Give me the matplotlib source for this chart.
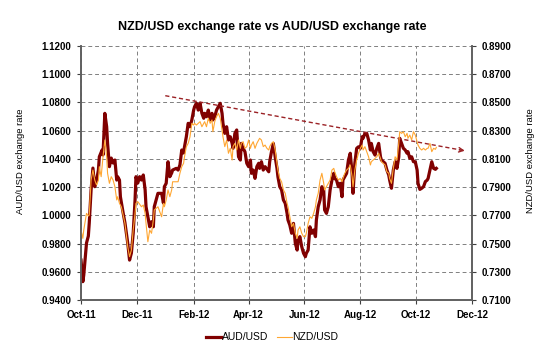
import numpy as np
import pandas as pd
import matplotlib
matplotlib.use('Agg')
import matplotlib.pyplot as plt
import matplotlib.dates as mdates

plt.rcParams['font.family'] = ['Liberation Sans', 'DejaVu Sans']

# days counted from 1 Oct 2011
start = pd.Timestamp('2011-10-01')

aud_days = [0, 2, 3, 6, 8, 9, 11, 13, 15, 17, 19, 20, 23, 24, 26, 28, 29, 31, 33, 35,
            37, 39, 40, 42, 43, 46, 48, 51, 53, 55, 57, 59, 60, 62, 64, 66, 68, 70, 71, 73,
            75, 77, 79, 80, 82, 84, 88, 90, 91, 93, 95, 97, 99, 100, 104, 106, 108, 110, 112, 113,
            115, 117, 119, 121, 123, 124, 126, 128, 130, 132, 134, 135, 137, 139, 141, 143, 144, 146, 148, 150,
            152, 154, 155, 157, 159, 161, 163, 165, 166, 168, 170, 172, 174, 175, 177, 179, 181, 183, 185, 186,
            188, 190, 192, 194, 195, 197, 199, 201, 205, 206, 208, 210, 212, 214, 215, 217, 219, 221, 223, 225,
            226, 228, 230, 232, 234, 236, 237, 239, 241, 243, 245, 246, 248, 250, 252, 254, 256, 257, 259, 261,
            263, 265, 266, 268, 270, 272, 274, 276, 277, 279, 281, 283, 285, 286, 288, 290, 292, 294, 296, 297,
            299, 301, 303, 305, 307, 308, 310, 312, 314, 316, 317, 319, 321, 323, 325, 327, 328, 330, 332, 334,
            336, 337, 339, 341, 343, 345, 347, 348, 350, 352, 354, 356, 357, 359, 361, 363, 365, 367, 368, 370,
            372, 374, 376, 378, 379, 381, 383, 385, 387, 388]
aud_usd = [0.9683, 0.9530, 0.9577, 0.9804, 0.9853, 0.9946, 1.0180, 1.0335, 1.0203, 1.0250,
           1.0321, 1.0415, 1.0463, 1.0428, 1.0723, 1.0628, 1.0510, 1.0345, 1.0406, 1.0371,
           1.0392, 1.0250, 1.0274, 1.0250, 1.0132, 1.0017, 0.9946, 0.9804, 0.9683, 0.9733,
           0.9875, 1.0109, 1.0274, 1.0229, 1.0274, 1.0250, 1.0286, 1.0180, 1.0061, 0.9990,
           0.9919, 0.9955, 0.9919, 1.0061, 1.0109, 1.0156, 1.0156, 1.0087, 1.0203, 1.0227,
           1.0380, 1.0274, 1.0300, 1.0321, 1.0333, 1.0321, 1.0357, 1.0463, 1.0442, 1.0486,
           1.0557, 1.0652, 1.0628, 1.0676, 1.0746, 1.0770, 1.0794, 1.0746, 1.0794, 1.0723,
           1.0688, 1.0723, 1.0699, 1.0746, 1.0676, 1.0723, 1.0676, 1.0699, 1.0746, 1.0770,
           1.0794, 1.0723, 1.0652, 1.0581, 1.0628, 1.0534, 1.0557, 1.0510, 1.0475, 1.0581,
           1.0605, 1.0415, 1.0392, 1.0510, 1.0475, 1.0451, 1.0369, 1.0345, 1.0392, 1.0298,
           1.0321, 1.0262, 1.0345, 1.0369, 1.0333, 1.0380, 1.0321, 1.0345, 1.0309, 1.0380,
           1.0451, 1.0510, 1.0415, 1.0333, 1.0274, 1.0203, 1.0180, 1.0109, 1.0085, 1.0014,
           0.9967, 0.9931, 0.9873, 0.9943, 0.9802, 0.9754, 0.9825, 0.9849, 0.9778, 0.9731,
           0.9707, 0.9731, 0.9754, 0.9919, 0.9873, 0.9896, 0.9849, 0.9967, 1.0061, 1.0109,
           1.0203, 1.0180, 1.0038, 1.0014, 1.0061, 1.0180, 1.0250, 1.0298, 1.0262, 1.0250,
           1.0203, 1.0227, 1.0132, 1.0250, 1.0274, 1.0298, 1.0392, 1.0440, 1.0298, 1.0156,
           1.0369, 1.0475, 1.0486, 1.0475, 1.0557, 1.0546, 1.0581, 1.0581, 1.0534, 1.0463,
           1.0510, 1.0451, 1.0427, 1.0475, 1.0510, 1.0415, 1.0392, 1.0380, 1.0369, 1.0321,
           1.0286, 1.0250, 1.0192, 1.0321, 1.0380, 1.0333, 1.0415, 1.0546, 1.0510, 1.0475,
           1.0463, 1.0440, 1.0451, 1.0404, 1.0415, 1.0380, 1.0380, 1.0321, 1.0227, 1.0184,
           1.0192, 1.0203, 1.0239, 1.0250, 1.0262, 1.0321, 1.0380, 1.0333, 1.0326, 1.0333]

nzd_days = [0, 2, 3, 6, 8, 9, 11, 13, 15, 17, 19, 20, 22, 24, 26, 28, 29, 31, 33, 35,
            37, 39, 40, 42, 44, 48, 51, 53, 55, 57, 59, 60, 62, 66, 68, 70, 71, 73, 75, 77,
            79, 80, 84, 88, 90, 91, 93, 95, 97, 99, 100, 104, 106, 108, 110, 112, 113, 115, 117, 119,
            121, 123, 124, 126, 128, 130, 132, 134, 135, 137, 139, 141, 143, 144, 146, 148, 150, 152, 154, 155,
            157, 159, 161, 163, 165, 166, 168, 170, 172, 174, 175, 177, 179, 181, 183, 185, 186, 188, 190, 192,
            194, 195, 197, 199, 201, 203, 205, 206, 208, 210, 212, 214, 215, 217, 219, 221, 223, 225, 226, 228,
            230, 232, 234, 236, 237, 239, 241, 243, 245, 246, 248, 250, 252, 254, 256, 257, 259, 261, 263, 265,
            266, 268, 270, 272, 274, 276, 277, 279, 281, 283, 285, 286, 288, 290, 292, 294, 296, 297, 299, 301,
            303, 305, 307, 308, 310, 312, 314, 316, 317, 319, 321, 323, 325, 327, 328, 330, 332, 334, 336, 337,
            339, 341, 343, 345, 347, 348, 350, 352, 354, 356, 357, 359, 361, 363, 365, 367, 368, 370, 372, 374,
            376, 378, 379, 381, 383, 385, 387, 388]
nzd_usd = [0.7596, 0.7537, 0.7596, 0.7714, 0.7695, 0.7702, 0.7950, 0.8021, 0.7950, 0.7915,
           0.7950, 0.8045, 0.7974, 0.8115, 0.8234, 0.8115, 0.7998, 0.7927, 0.7974, 0.7950,
           0.7903, 0.7809, 0.7832, 0.7785, 0.7761, 0.7643, 0.7478, 0.7407, 0.7454, 0.7596,
           0.7714, 0.7785, 0.7797, 0.7761, 0.7773, 0.7714, 0.7643, 0.7513, 0.7596, 0.7573,
           0.7667, 0.7738, 0.7761, 0.7690, 0.7785, 0.7761, 0.7809, 0.7880, 0.7832, 0.7880,
           0.7938, 0.7938, 0.7938, 0.7998, 0.8045, 0.8069, 0.8115, 0.8186, 0.8210, 0.8257,
           0.8352, 0.8340, 0.8352, 0.8340, 0.8352, 0.8364, 0.8328, 0.8352, 0.8364, 0.8328,
           0.8388, 0.8352, 0.8376, 0.8293, 0.8364, 0.8399, 0.8423, 0.8388, 0.8305, 0.8257,
           0.8187, 0.8234, 0.8140, 0.8175, 0.8092, 0.8187, 0.8210, 0.8163, 0.8234, 0.8175,
           0.8210, 0.8222, 0.8175, 0.8187, 0.8234, 0.8175, 0.8198, 0.8222, 0.8175, 0.8210,
           0.8234, 0.8246, 0.8234, 0.8187, 0.8198, 0.8175, 0.8163, 0.8187, 0.8210, 0.8222,
           0.8163, 0.8069, 0.8021, 0.7962, 0.7938, 0.7880, 0.7856, 0.7785, 0.7761, 0.7690,
           0.7619, 0.7643, 0.7573, 0.7537, 0.7596, 0.7619, 0.7573, 0.7549, 0.7549, 0.7573,
           0.7643, 0.7690, 0.7679, 0.7714, 0.7761, 0.7809, 0.7856, 0.7950, 0.7998, 0.7927,
           0.7880, 0.7903, 0.7927, 0.7950, 0.8021, 0.8033, 0.8009, 0.7974, 0.7950, 0.7962,
           0.7938, 0.7962, 0.7998, 0.8021, 0.8033, 0.8057, 0.7974, 0.7903, 0.8021, 0.8092,
           0.8140, 0.8175, 0.8198, 0.8163, 0.8187, 0.8151, 0.8115, 0.8057, 0.8080, 0.8092,
           0.8104, 0.8115, 0.8140, 0.8104, 0.8080, 0.8069, 0.8057, 0.8009, 0.7998, 0.7962,
           0.7927, 0.8033, 0.8115, 0.8092, 0.8210, 0.8293, 0.8281, 0.8293, 0.8257, 0.8281,
           0.8246, 0.8269, 0.8234, 0.8293, 0.8269, 0.8222, 0.8198, 0.8175, 0.8163, 0.8175,
           0.8163, 0.8175, 0.8175, 0.8210, 0.8151, 0.8175, 0.8168, 0.8182]

trend_dates = ['2012-01-01', '2012-11-23']
trend_vals = [1.0848, 1.0458]

aud_x = start + pd.to_timedelta(aud_days, unit='D')
nzd_x = start + pd.to_timedelta(nzd_days, unit='D')
trend_x = pd.to_datetime(trend_dates)

aud_col = '#800000'
nzd_col = '#FFA733'
grid_col = '#808080'

fig = plt.figure(figsize=(5.5, 3.54), dpi=100)
ax = fig.add_axes([0.1473, 0.1525, 0.711, 0.7175])
ax2 = ax.twinx()

l1, = ax.plot(aud_x, aud_usd, color=aud_col, lw=2.3, label='AUD/USD')
l2, = ax2.plot(nzd_x, nzd_usd, color=nzd_col, lw=0.8, label='NZD/USD')

# downward trend line with arrow
ax.plot(trend_x, trend_vals, color='#9B2226', lw=1.0, ls=(0, (3, 2)))
ax.annotate('', xy=(trend_x[1], trend_vals[1]),
            xytext=(trend_x[1] - pd.Timedelta(days=6), trend_vals[1] + 0.0006),
            arrowprops=dict(arrowstyle='->', color='#9B2226', lw=1.0,
                            mutation_scale=8, shrinkA=0, shrinkB=0))

ax.set_xlim(pd.Timestamp('2011-10-01'), pd.Timestamp('2012-12-01'))
ax.set_ylim(0.94, 1.12)
ax2.set_ylim(0.71, 0.89)
ax.set_yticks(np.arange(0.94, 1.1201, 0.02))
ax2.set_yticks(np.arange(0.71, 0.8901, 0.02))
ax.yaxis.set_major_formatter(plt.FormatStrFormatter('%.4f'))
ax2.yaxis.set_major_formatter(plt.FormatStrFormatter('%.4f'))
ax.xaxis.set_major_locator(mdates.MonthLocator(bymonth=[2, 4, 6, 8, 10, 12]))
ax.xaxis.set_major_formatter(mdates.DateFormatter('%b-%y'))

for a in (ax, ax2):
    a.tick_params(labelsize=7, length=3, width=0.8, color='#404040', pad=4)
    for lab in a.get_xticklabels() + a.get_yticklabels():
        lab.set_fontweight('bold')
    a.spines['top'].set_visible(False)
    for s in ('left', 'right', 'bottom'):
        a.spines[s].set_color('#606060')
        a.spines[s].set_linewidth(1.2)

ax.grid(True, color=grid_col, ls=(0, (4, 3)), lw=0.7)
ax.set_axisbelow(True)

ax.set_ylabel('AUD/USD exchange rate', fontsize=6.8)
ax2.set_ylabel('NZD/USD exchange rate', fontsize=6.8)
ax.yaxis.set_label_coords(-0.143, 0.547)
ax2.yaxis.set_label_coords(1.137, 0.55)

fig.suptitle('NZD/USD exchange rate vs AUD/USD exchange rate', fontsize=9,
             fontweight='bold', x=0.495, y=0.94)

fig.legend(handles=[l1, l2], loc='center', bbox_to_anchor=(0.495, 0.047), ncol=2,
           frameon=False, fontsize=7.5, handlelength=1.45, handletextpad=0.05,
           columnspacing=0.8)

fig.savefig('out.png', dpi=100)
